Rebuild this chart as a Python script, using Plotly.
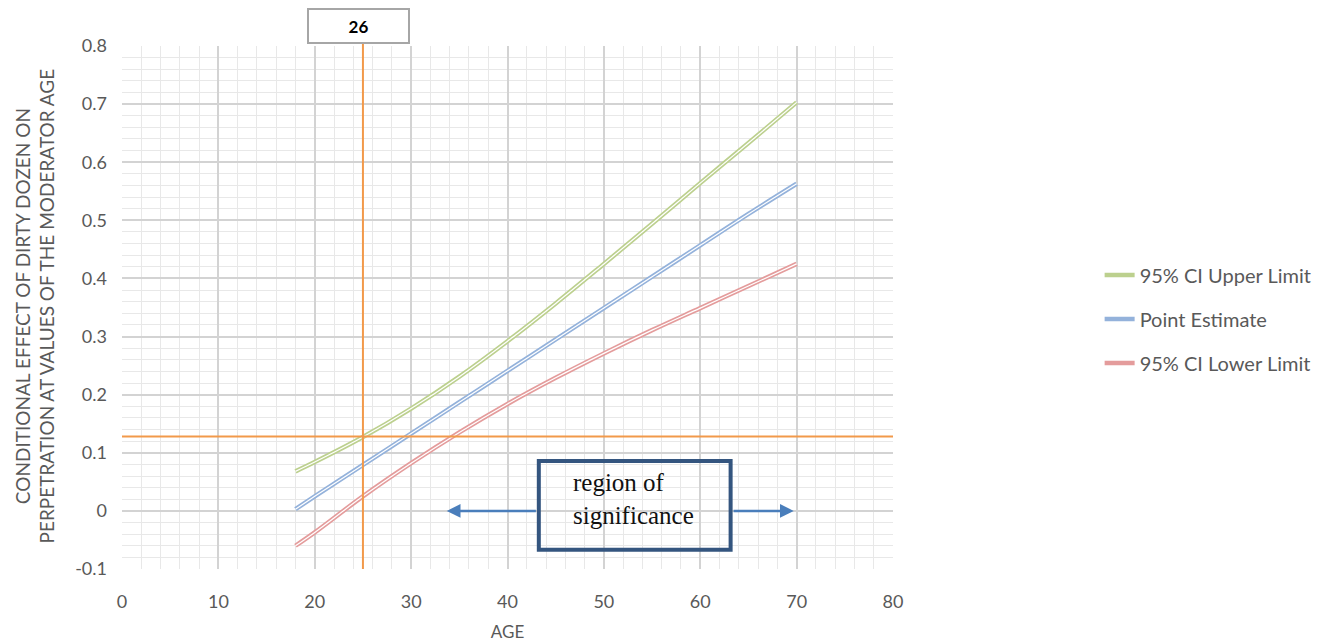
import plotly.graph_objects as go

age = [18, 20, 25, 30, 35, 40, 45, 50, 55, 60, 65, 70]
upper = [0.068, 0.084, 0.127, 0.176, 0.231, 0.292, 0.357, 0.425, 0.494, 0.564, 0.633, 0.703]
point = [0.003, 0.025, 0.079, 0.133, 0.187, 0.241, 0.295, 0.349, 0.403, 0.457, 0.511, 0.563]
lower = [-0.060, -0.037, 0.025, 0.082, 0.135, 0.184, 0.229, 0.271, 0.311, 0.349, 0.387, 0.425]

series_names = ["95% CI Upper Limit", "Point Estimate", "95% CI Lower Limit"]
series_colors = ["#BCD08E", "#94B2DB", "#E49C9C"]

cross_x = 25
cross_y = 0.128
cross_label = "26"
x_ticks = list(range(0, 81, 10))
y_ticks = [round(-0.1 + 0.1 * i, 1) for i in range(10)]
y_ticktext = ["-0.1" if v < 0 else ("0" if v == 0 else f"{v:.1f}") for v in y_ticks]
y_title = "CONDITIONAL EFFECT OF DIRTY DOZEN ON<br>PERPETRATION AT VALUES OF THE MODERATOR AGE"

fig = go.Figure()
for name, ys, col in zip(series_names, [upper, point, lower], series_colors):
    fig.add_trace(go.Scatter(x=age, y=ys, mode="lines", name=name,
                             line=dict(color=col, width=4.5, shape="spline"),
                             legendgroup=name))
    fig.add_trace(go.Scatter(x=age, y=ys, mode="lines", showlegend=False,
                             line=dict(color="white", width=1.2, shape="spline"),
                             hoverinfo="skip", legendgroup=name))

orange = "#F2994A"
fig.add_shape(type="line", xref="x", yref="y", x0=-0.3, x1=80.1, y0=cross_y, y1=cross_y,
              line=dict(color=orange, width=2))
fig.add_shape(type="line", xref="x", yref="paper", x0=cross_x, x1=cross_x, y0=0, y1=1.006,
              line=dict(color=orange, width=2))

fig.add_annotation(x=24.5, y=1.038, xref="x", yref="paper", text="<b>" + cross_label + "</b>",
                   showarrow=False, xanchor="center", yanchor="middle",
                   font=dict(family="Lato", size=17, color="#000000"),
                   bordercolor="#A6A6A6", borderwidth=2, width=97, height=30,
                   bgcolor="white")

fig.add_shape(type="rect", xref="x", yref="y", x0=43.25, x1=63.15, y0=-0.067, y1=0.086,
              line=dict(color="#34557F", width=4), fillcolor="rgba(0,0,0,0)")
fig.add_annotation(x=46.6, y=0.021, xref="x", yref="y", text="region of<br>significance",
                   showarrow=False, xanchor="left", yanchor="middle", align="left",
                   font=dict(family="Liberation Serif", size=25, color="#111111"))
arrow_col = "#4A7EBB"
fig.add_annotation(x=33.7, y=0, ax=43.1, ay=0, xref="x", yref="y", axref="x", ayref="y",
                   showarrow=True, arrowhead=2, arrowsize=1.1, arrowwidth=2.5,
                   arrowcolor=arrow_col, text="")
fig.add_annotation(x=69.7, y=0, ax=63.3, ay=0, xref="x", yref="y", axref="x", ayref="y",
                   showarrow=True, arrowhead=2, arrowsize=1.1, arrowwidth=2.5,
                   arrowcolor=arrow_col, text="")

# y-axis title as rotated annotation
fig.add_annotation(x=-0.1135, y=0.503, xref="paper", yref="paper", text=y_title,
                   textangle=-90, showarrow=False, xanchor="center", yanchor="middle",
                   align="center", font=dict(family="Lato", size=19, color="#595959"))

fig.update_layout(
    width=1327, height=636,
    margin=dict(l=114, r=442, t=38, b=75),
    paper_bgcolor="white", plot_bgcolor="white",
    font=dict(family="Lato", color="#595959", size=16),
    showlegend=True,
    legend=dict(x=1.268, y=0.478, xanchor="left", yanchor="middle",
                font=dict(family="Lato", size=20, color="#595959"),
                tracegroupgap=15, bgcolor="rgba(0,0,0,0)"),
    xaxis=dict(range=[0, 80], tickvals=x_ticks, showgrid=True, gridcolor="#D3D3D3",
               gridwidth=1.5, zeroline=False, showline=False, ticks="",
               ticklabelstandoff=20, automargin=False,
               minor=dict(dtick=2, showgrid=True, gridcolor="#E8E8E8", gridwidth=1),
               title=dict(text="AGE", font=dict(size=17, color="#595959"), standoff=15),
               tickfont=dict(size=18, color="#595959")),
    yaxis=dict(range=[-0.1, 0.8], tickvals=y_ticks, ticktext=y_ticktext, showgrid=True,
               gridcolor="#D3D3D3", gridwidth=1.5, zeroline=False, showline=False, ticks="",
               ticklabelstandoff=14, automargin=False,
               minor=dict(dtick=0.02, showgrid=True, gridcolor="#E8E8E8", gridwidth=1),
               tickfont=dict(size=18, color="#595959")),
)

fig.write_html("out.html")
